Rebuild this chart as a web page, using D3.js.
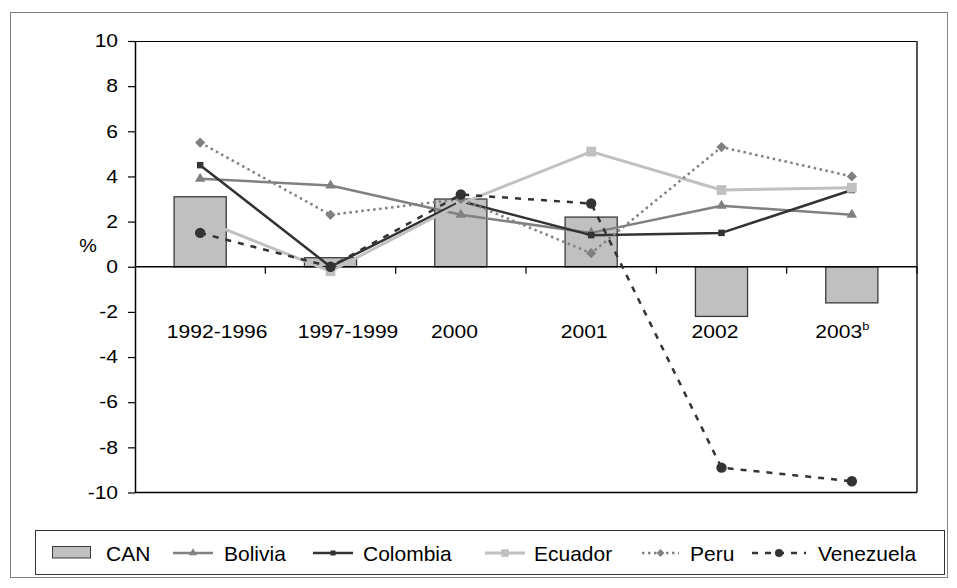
<!DOCTYPE html>
<html>
<head>
<meta charset="utf-8">
<script src="https://cdn.jsdelivr.net/npm/d3@7"></script>
<style>
  html, body { margin: 0; padding: 0; background: #fff; }
  svg { display: block; font-family: Arial, "Liberation Sans", sans-serif; }
</style>
</head>
<body>
<svg id="chart" width="957" height="588"></svg>
<script>
// Growth rates (%) for the Andean Community and its members
const categories = ["1992-1996", "1997-1999", "2000", "2001", "2002", "2003"];
const superscripts = ["", "", "", "", "", "b"];
const canValues = [3.1, 0.4, 3.0, 2.2, -2.2, -1.6];
const boliviaValues = [3.9, 3.6, 2.3, 1.5, 2.7, 2.3];
const colombiaValues = [4.5, 0.0, 2.9, 1.4, 1.5, 3.4];
const ecuadorValues = [2.1, -0.2, 2.8, 5.1, 3.4, 3.5];
const peruValues = [5.5, 2.3, 3.0, 0.6, 5.3, 4.0];
const venezuelaValues = [1.5, 0.0, 3.2, 2.8, -8.9, -9.5];
const yTicks = [-10, -8, -6, -4, -2, 0, 2, 4, 6, 8, 10];

// Horizontal nudge for each category label (layout only)
const labelShift = [17, 17.5, -6.3, -7, -6.5, -9.5];

const series = [
  { name: "Bolivia",   values: boliviaValues,   color: "#808080", width: 2.5, dash: null,      marker: "triangle", msize: 48 },
  { name: "Colombia",  values: colombiaValues,  color: "#333333", width: 2.5, dash: null,      marker: "square",   msize: 42 },
  { name: "Ecuador",   values: ecuadorValues,   color: "#c0c0c0", width: 3,   dash: null,      marker: "square",   msize: 95 },
  { name: "Peru",      values: peruValues,      color: "#808080", width: 2.5, dash: "2.5 3.5", marker: "diamond",  msize: 52 },
  { name: "Venezuela", values: venezuelaValues, color: "#333333", width: 2.5, dash: "6 7",     marker: "circle",   msize: 85 }
];

const svg = d3.select("#chart");
const FONT_SX = 1.17;

// Outer frame
svg.append("rect").attr("x", 10.5).attr("y", 12.5).attr("width", 937).attr("height", 565)
  .attr("fill", "#fff").attr("stroke", "#808080").attr("stroke-width", 1);

const plot = { left: 135, right: 917, top: 41, bottom: 492.5 };

const x = d3.scaleBand().domain(categories).range([plot.left, plot.right]).paddingInner(0).paddingOuter(0);
const y = d3.scaleLinear().domain([-10, 10]).range([plot.bottom, plot.top]);
const cx = c => x(c) + x.bandwidth() / 2;

// Plot area border (top, right, bottom)
svg.append("line").attr("x1", plot.left).attr("x2", plot.right).attr("y1", plot.top + 0.5).attr("y2", plot.top + 0.5)
  .attr("stroke", "#000").attr("stroke-width", 1.2);
svg.append("line").attr("x1", plot.right).attr("x2", plot.right).attr("y1", plot.top).attr("y2", plot.bottom)
  .attr("stroke", "#555").attr("stroke-width", 2);
svg.append("line").attr("x1", plot.left).attr("x2", plot.right).attr("y1", plot.bottom).attr("y2", plot.bottom)
  .attr("stroke", "#000").attr("stroke-width", 1.5);

// Bars for CAN
const barW = x.bandwidth() * 0.4;
svg.append("g").selectAll("rect").data(canValues).join("rect")
  .attr("x", (d, i) => cx(categories[i]) - barW / 2)
  .attr("y", d => y(Math.max(0, d)))
  .attr("width", barW)
  .attr("height", d => Math.abs(y(d) - y(0)))
  .attr("fill", "#c0c0c0").attr("stroke", "#3a3a3a").attr("stroke-width", 1.3);

// Y axis
const yAxis = svg.append("g").attr("transform", `translate(${plot.left},0)`)
  .call(d3.axisLeft(y).tickValues(yTicks).tickSize(7).tickSizeOuter(0).tickPadding(7.5).tickFormat(d3.format("d")));
yAxis.select(".domain").attr("stroke", "#000").attr("stroke-width", 1.5);
yAxis.selectAll(".tick line").attr("stroke", "#000").attr("stroke-width", 1.2);
yAxis.selectAll(".tick text")
  .attr("font-size", 18).attr("fill", "#000")
  .attr("font-family", "Arial, 'Liberation Sans', sans-serif")
  .attr("transform", `scale(${FONT_SX},1)`)
  .text(d => d < 0 ? "-" + Math.abs(d) : d);

// Zero line with category separators
svg.append("line").attr("x1", plot.left).attr("x2", plot.right).attr("y1", y(0)).attr("y2", y(0))
  .attr("stroke", "#000").attr("stroke-width", 1.5);
const bounds = categories.map(c => x(c)).concat([x(categories[categories.length - 1]) + x.bandwidth()]);
svg.append("g").selectAll("line").data(bounds.slice(1)).join("line")
  .attr("x1", d => d).attr("x2", d => d).attr("y1", y(0)).attr("y2", y(0) + 7)
  .attr("stroke", "#000").attr("stroke-width", 1.2);

// Category labels
const catText = svg.append("g").selectAll("text").data(categories).join("text")
  .attr("transform", (d, i) => `translate(${cx(d) + labelShift[i]},337.5) scale(${FONT_SX},1)`)
  .attr("text-anchor", "middle").attr("font-size", 18).attr("fill", "#000")
  .text(d => d);
catText.filter((d, i) => superscripts[i]).append("tspan")
  .attr("font-size", 11).attr("dy", -8)
  .text((d) => superscripts[categories.indexOf(d)]);

// "%" axis title
svg.append("text").attr("transform", `translate(88,252) scale(1.1,1)`)
  .attr("text-anchor", "middle").attr("font-size", 18).text("%");

// Marker shapes
function markerPath(type, size) {
  if (type === "triangle") return d3.symbol(d3.symbolTriangle, size)();
  if (type === "square") return d3.symbol(d3.symbolSquare, size)();
  if (type === "circle") return d3.symbol(d3.symbolCircle, size)();
  return d3.symbol(d3.symbolSquare, size)(); // rotated for diamond
}
const markerRot = t => t === "diamond" ? " rotate(45)" : "";

const line = d3.line().x((d, i) => cx(categories[i])).y(d => y(d));

series.forEach(s => {
  const g = svg.append("g");
  g.append("path").datum(s.values).attr("d", line)
    .attr("fill", "none").attr("stroke", s.color).attr("stroke-width", s.width)
    .attr("stroke-dasharray", s.dash).attr("stroke-linejoin", "round");
  g.selectAll("path.m").data(s.values).join("path").attr("class", "m")
    .attr("d", markerPath(s.marker, s.msize))
    .attr("transform", (d, i) => `translate(${cx(categories[i])},${y(d)})${markerRot(s.marker)}`)
    .attr("fill", s.color);
});

// Legend
const legend = svg.append("g");
legend.append("rect").attr("x", 35.5).attr("y", 530.5).attr("width", 909).attr("height", 44)
  .attr("fill", "#fff").attr("stroke", "#333").attr("stroke-width", 1);

const LEG_Y = 553;
legend.append("rect").attr("x", 52.5).attr("y", 546.5).attr("width", 38).attr("height", 11.5)
  .attr("fill", "#c0c0c0").attr("stroke", "#3a3a3a").attr("stroke-width", 1);
const legText = (px, str) => legend.append("text")
  .attr("transform", `translate(${px},561) scale(1.05,1)`)
  .attr("font-size", 20).attr("fill", "#000").text(str);
legText(106, "CAN");

const legendPos = [
  { x1: 173, x2: 213, tx: 224 },
  { x1: 313, x2: 353, tx: 363 },
  { x1: 485, x2: 525, tx: 534 },
  { x1: 642, x2: 679, tx: 690 },
  { x1: 752, x2: 806, tx: 818 }
];
series.forEach((s, i) => {
  const p = legendPos[i];
  legend.append("line").attr("x1", p.x1).attr("x2", p.x2).attr("y1", LEG_Y).attr("y2", LEG_Y)
    .attr("stroke", s.color).attr("stroke-width", s.width).attr("stroke-dasharray", s.dash);
  legend.append("path").attr("d", markerPath(s.marker, s.msize * 0.6))
    .attr("transform", `translate(${(p.x1 + p.x2) / 2},${LEG_Y})${markerRot(s.marker)}`)
    .attr("fill", s.color);
  legText(p.tx, s.name);
});
</script>
</body>
</html>
